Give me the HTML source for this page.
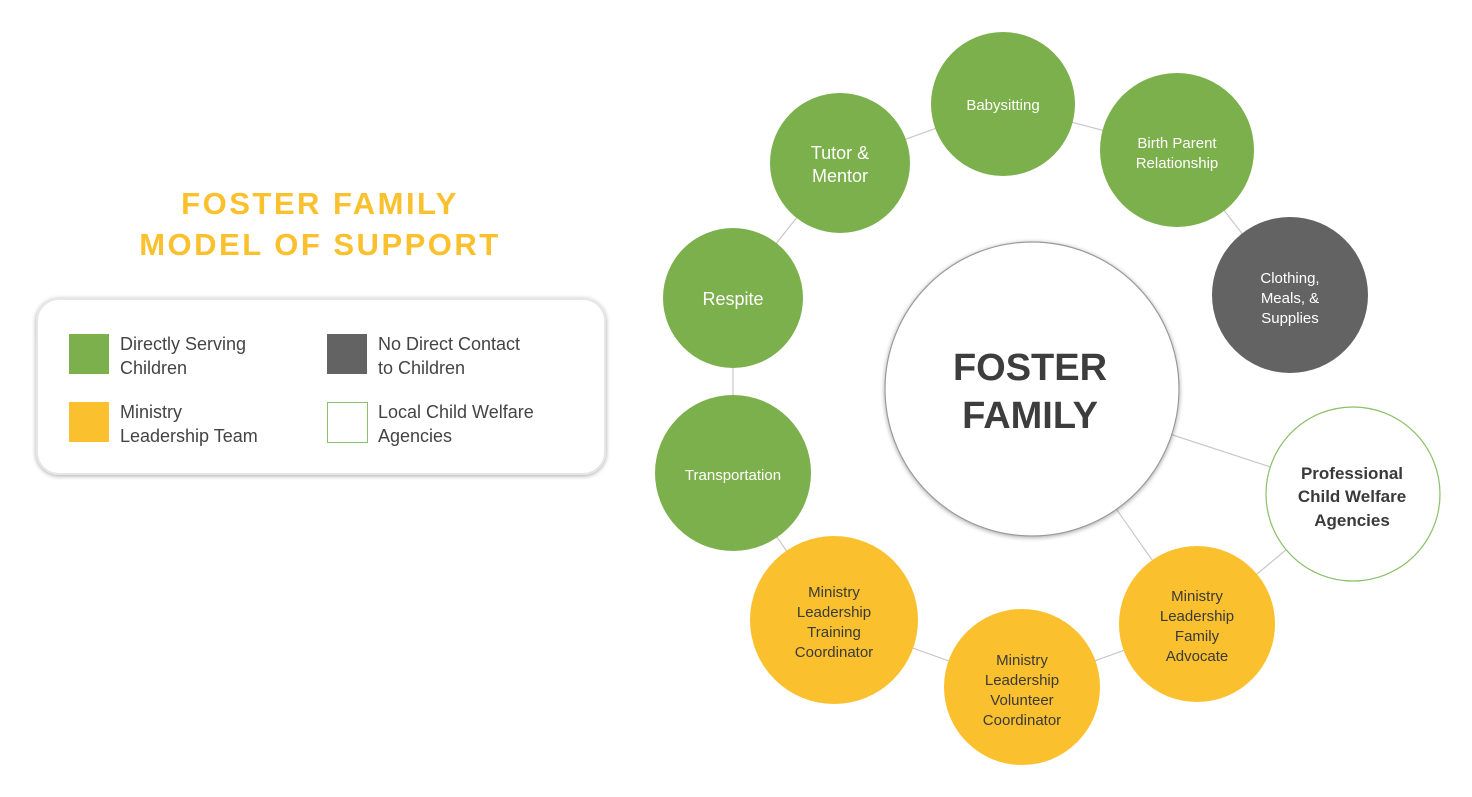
<!DOCTYPE html>
<html><head><meta charset="utf-8"><style>
html,body{margin:0;padding:0;background:#fff;}
svg{display:block;}
text{font-family:"Liberation Sans",sans-serif;}
</style></head><body>
<svg width="1472" height="797" viewBox="0 0 1472 797" xmlns="http://www.w3.org/2000/svg">
<defs><filter id="sh" x="-10%" y="-10%" width="120%" height="130%"><feGaussianBlur in="SourceAlpha" stdDeviation="2.5"/><feOffset dy="1"/><feComponentTransfer><feFuncA type="linear" slope="0.35"/></feComponentTransfer><feMerge><feMergeNode/><feMergeNode in="SourceGraphic"/></feMerge></filter></defs>
<text x="320" y="214" text-anchor="middle" font-size="31" font-weight="bold" fill="#fbc02d" letter-spacing="2.5">FOSTER FAMILY</text>
<text x="320" y="255" text-anchor="middle" font-size="31" font-weight="bold" fill="#fbc02d" letter-spacing="2.5">MODEL OF SUPPORT</text>
<rect x="37" y="299" width="568" height="175" rx="22" fill="#fff" stroke="#e6e6e6" stroke-width="2" filter="url(#sh)"/>
<g font-size="18" fill="#444">
<rect x="69" y="334" width="40" height="40" fill="#7cb04c"/>
<text x="120" y="350">Directly Serving</text><text x="120" y="374">Children</text>
<rect x="327" y="334" width="40" height="40" fill="#636363"/>
<text x="378" y="350">No Direct Contact</text><text x="378" y="374">to Children</text>
<rect x="69" y="402" width="40" height="40" fill="#fbc02d"/>
<text x="120" y="418">Ministry</text><text x="120" y="442">Leadership Team</text>
<rect x="327.5" y="402.5" width="40" height="40" fill="#fff" stroke="#8bbf68"/>
<text x="378" y="418">Local Child Welfare</text><text x="378" y="442">Agencies</text>
</g>
<g stroke="#c8c8c8" stroke-width="1.2" fill="none">
<polyline points="1003,104 1177,150 1290,295"/>
<polyline points="1003,104 840,163 733,298 733,473 834,620 1022,687 1197,624 1353,494"/>
<line x1="1032" y1="389" x2="1353" y2="494"/>
<line x1="1032" y1="389" x2="1197" y2="624"/>
</g>
<g stroke="none">
<circle cx="1003" cy="104" r="72" fill="#7cb04c"/>
<circle cx="1177" cy="150" r="77" fill="#7cb04c"/>
<circle cx="1290" cy="295" r="78" fill="#636363"/>
<circle cx="840" cy="163" r="70" fill="#7cb04c"/>
<circle cx="733" cy="298" r="70" fill="#7cb04c"/>
<circle cx="733" cy="473" r="78" fill="#7cb04c"/>
<circle cx="834" cy="620" r="84" fill="#fbc02d"/>
<circle cx="1022" cy="687" r="78" fill="#fbc02d"/>
<circle cx="1197" cy="624" r="78" fill="#fbc02d"/>
</g>
<circle cx="1353" cy="494" r="87" fill="#fff" stroke="#8bbf68" stroke-width="1.2"/>
<circle cx="1032" cy="389" r="147" fill="#fff" stroke="#999" stroke-width="1.2" filter="url(#sh)"/>
<g text-anchor="middle" fill="#fff">
<text x="1003" y="110" font-size="15">Babysitting</text>
<text x="1177" y="148" font-size="15">Birth Parent</text><text x="1177" y="168" font-size="15">Relationship</text>
<text x="1290" y="283" font-size="15">Clothing,</text><text x="1290" y="303" font-size="15">Meals, &amp;</text><text x="1290" y="323" font-size="15">Supplies</text>
<text x="840" y="159" font-size="18">Tutor &amp;</text><text x="840" y="182" font-size="18">Mentor</text>
<text x="733" y="305" font-size="18">Respite</text>
<text x="733" y="480" font-size="15">Transportation</text>
</g>
<g text-anchor="middle" fill="#3a3a3a" font-size="15">
<text x="834" y="597">Ministry</text><text x="834" y="617">Leadership</text><text x="834" y="637">Training</text><text x="834" y="657">Coordinator</text>
<text x="1022" y="665">Ministry</text><text x="1022" y="685">Leadership</text><text x="1022" y="705">Volunteer</text><text x="1022" y="725">Coordinator</text>
<text x="1197" y="601">Ministry</text><text x="1197" y="621">Leadership</text><text x="1197" y="641">Family</text><text x="1197" y="661">Advocate</text>
<g font-weight="bold" font-size="17"><text x="1352" y="479">Professional</text><text x="1352" y="502">Child Welfare</text><text x="1352" y="526">Agencies</text></g>
<g font-weight="bold" font-size="38" fill="#3d3d3d"><text x="1030" y="380">FOSTER</text><text x="1030" y="428">FAMILY</text></g>
</g>
</svg>
</body></html>
